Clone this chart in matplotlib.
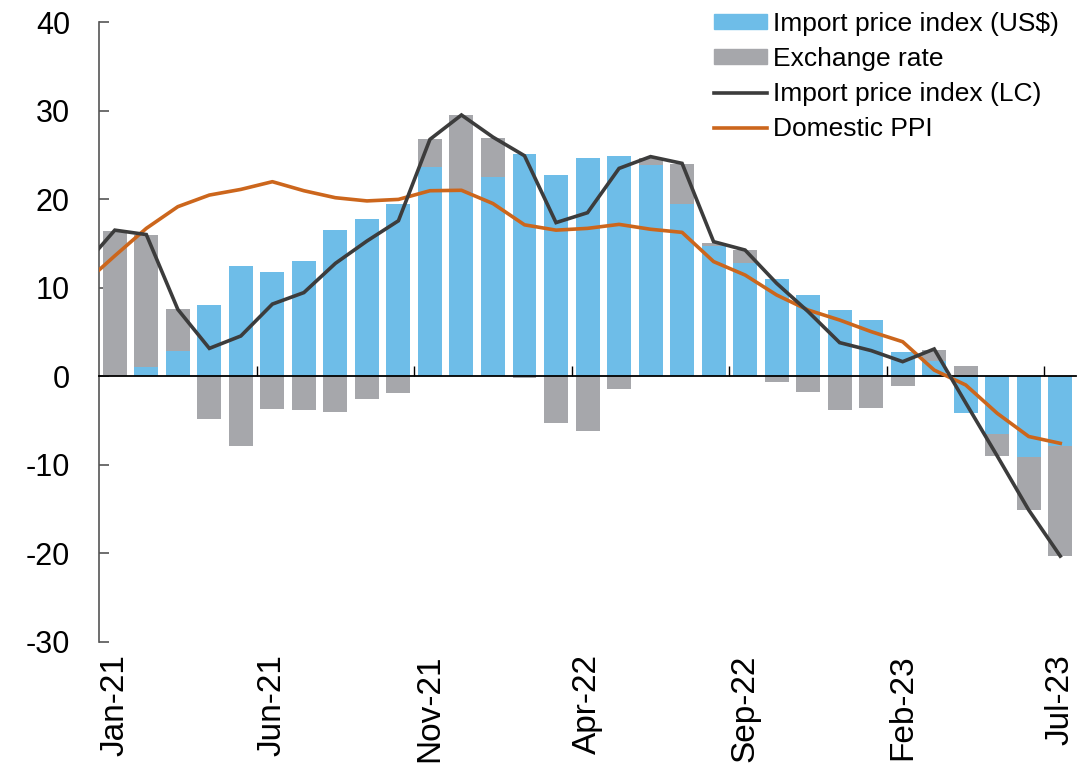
import numpy as np
import pandas as pd
import matplotlib
matplotlib.use("Agg")
import matplotlib.pyplot as plt
from matplotlib.patches import Patch
from matplotlib.lines import Line2D

plt.rcParams['font.family'] = ['Liberation Sans', 'DejaVu Sans']
plt.rcParams['axes.unicode_minus'] = False

# ---------------------------------------------------------------
# data (% yoy), Jan-21 .. Jul-23 ; lines also carry Dec-20
months = pd.date_range("2021-01-01", "2023-07-01", freq="MS")
month_labels = [m.strftime("%b-%y") for m in months]

import_usd = [0.0, 1.0, 2.9, 8.05, 12.45, 11.8, 13.05, 16.5, 17.75, 19.45,
              23.66, 20.8, 22.45, 25.1, 22.7, 24.6, 24.87, 23.9, 19.4, 14.75,
              12.83, 10.98, 9.14, 7.48, 6.4, 2.74, 1.76, -4.18, -6.55, -9.15,
              -7.83]
exch_rate = [16.4, 14.9, 4.7, -4.85, -7.87, -3.73, -3.8, -4.0, -2.56, -1.92,
             3.1, 8.7, 4.45, -0.15, -5.3, -6.13, -1.47, 0.8, 4.6, 0.35,
             1.4, -0.6, -1.8, -3.8, -3.6, -1.1, 1.2, 1.2, -2.4, -6.0,
             -12.45]

# Dec-20 first
import_lc = [12.4, 16.5, 16.0, 7.55, 3.15, 4.55, 8.15, 9.45, 12.75, 15.27, 17.56,
             26.75, 29.5, 27.0, 24.9, 17.35, 18.47, 23.47, 24.8, 24.04, 15.2,
             14.25, 10.5, 7.3, 3.8, 2.9, 1.65, 3.08, -3.0, -9.0, -15.1,
             -20.3]
domestic_ppi = [10.4, 13.6, 16.7, 19.15, 20.46, 21.1, 21.97, 20.95, 20.16, 19.8,
                19.97, 20.95, 21.0, 19.5, 17.1, 16.5, 16.7, 17.15, 16.6, 16.25,
                12.95, 11.43, 9.18, 7.48, 6.35, 5.04, 3.9, 0.7, -0.98, -4.18,
                -6.8, -7.57]

c_blue = '#6EBDE8'
c_grey = '#A6A7AB'
c_dark = '#3C3C3C'
c_orange = '#CC661C'

# ---------------------------------------------------------------
fig = plt.figure(figsize=(10.86, 7.64), dpi=100)
ax = fig.add_axes([0.0912, 0.1597, 0.8996, 0.8115])

x = np.arange(len(months))
usd = np.array(import_usd)
fx = np.array(exch_rate)

# stack exchange rate on the same side as the US$ bar, else from zero
fx_base = np.where(np.sign(fx) == np.sign(usd), usd, 0.0)
width = 0.76
ax.bar(x, usd, width, color=c_blue, zorder=2)
ax.bar(x, fx, width, bottom=fx_base, color=c_grey, zorder=2)

xl = np.arange(-1, len(months))
ax.plot(xl, import_lc, color=c_dark, lw=2.6, zorder=4, solid_joinstyle='miter')
ax.plot(xl, domestic_ppi, color=c_orange, lw=2.6, zorder=3)

ax.set_xlim(-0.5, len(months) - 0.5)
ax.set_ylim(-30, 40)
ax.set_yticks(np.arange(-30, 41, 10))

# spines
for s in ['top', 'right']:
    ax.spines[s].set_visible(False)
ax.spines['left'].set_color('#555555')
ax.spines['left'].set_linewidth(1.2)
ax.spines['bottom'].set_position(('data', 0))
ax.spines['bottom'].set_color('black')
ax.spines['bottom'].set_linewidth(1.3)

ax.tick_params(axis='y', direction='in', length=7, width=1.2, color='#555555',
               labelsize=22, pad=21)
ax.set_xticks(np.arange(4.5, len(months), 5))
ax.tick_params(axis='x', direction='in', length=7, width=1.0, color='black',
               labelbottom=False)

sec = ax.secondary_xaxis(-0.0)
sec.set_xticks(x[::5], [month_labels[i] for i in x[::5]], rotation=90)
sec.tick_params(length=0, labelsize=24, pad=9)
sec.spines['bottom'].set_visible(False)

handles = [Patch(color=c_blue), Patch(color=c_grey),
           Line2D([], [], color=c_dark, lw=2.6),
           Line2D([], [], color=c_orange, lw=2.6)]
labels = ["Import price index (US$)", "Exchange rate",
          "Import price index (LC)", "Domestic PPI"]
fig.legend(handles, labels, loc='upper right', bbox_to_anchor=(0.985, 0.998),
           frameon=False, fontsize=19, handlelength=2.0, handleheight=0.5,
           handletextpad=0.25, labelspacing=0.42, borderaxespad=0)

fig.savefig("out.png", dpi=100)
